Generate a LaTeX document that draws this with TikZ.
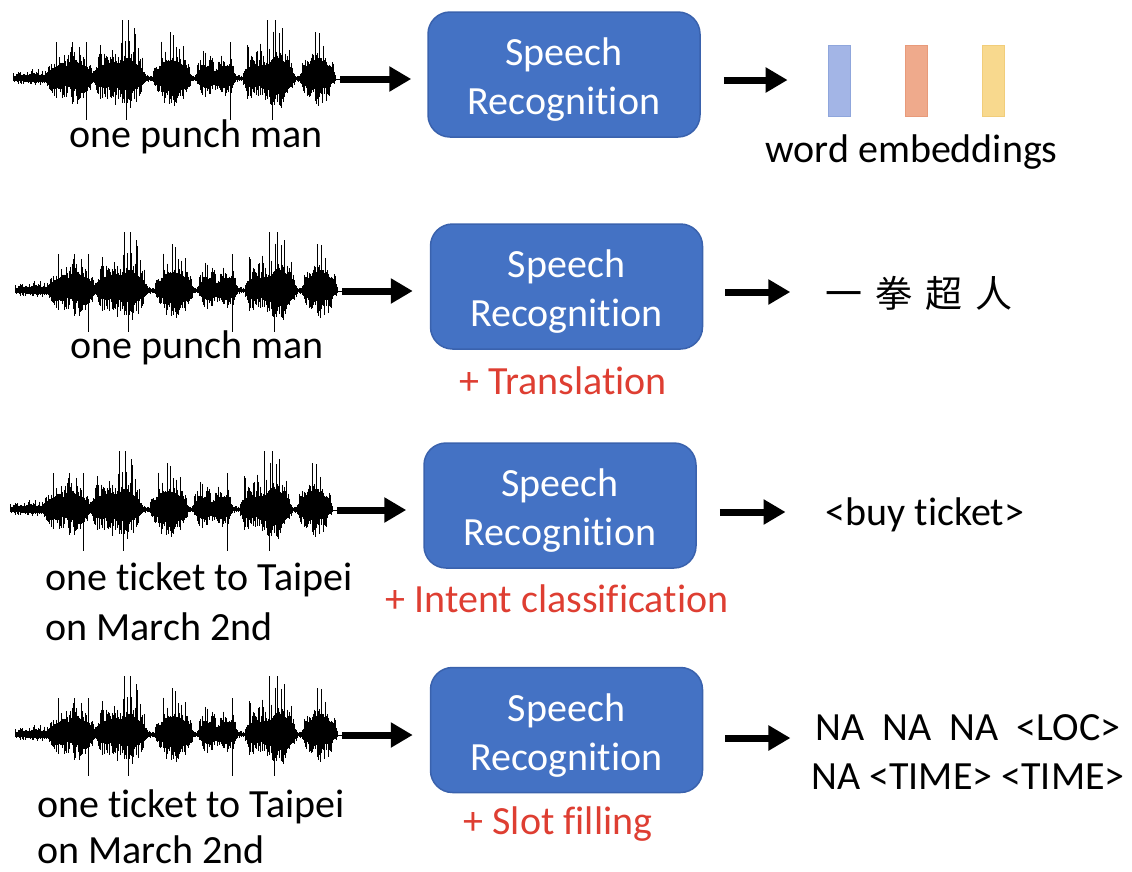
\documentclass[tikz,border=0pt]{standalone}
\usepackage{fontspec}
\setmainfont{Carlito}[Ligatures={NoCommon}]
\newfontfamily\cjkfont{Noto Sans CJK SC}
\usetikzlibrary{arrows.meta}
\definecolor{boxfill}{HTML}{4472C4}
\definecolor{boxline}{HTML}{3A62AD}
\definecolor{labred}{RGB}{222,62,50}
\definecolor{embblue}{HTML}{A3B5E6}
\definecolor{embbluel}{HTML}{8FA6DC}
\definecolor{embor}{HTML}{EFAA8C}
\definecolor{emborl}{HTML}{E89A7A}
\definecolor{embye}{HTML}{F8D98E}
\definecolor{embyel}{HTML}{F1CD7A}
\newcommand{\boxstrut}{\rule{0pt}{38pt}}
\tikzset{
  waveline/.style={line width=0.95pt, black},
  spikeline/.style={line width=0.8pt, black},
  bigarrow/.style={line width=7pt, -{Triangle[length=22pt,width=24pt]}},
  srbox/.style={draw=boxline, fill=boxfill, line width=1.5pt, rounded corners=22pt,
    minimum width=272pt, minimum height=125pt, inner sep=0pt, text=white,
    align=center, font=\fontsize{40}{49}\selectfont},
  txt/.style={inner sep=0pt, anchor=base, font=\fontsize{40}{49}\selectfont},
  cjk/.style={inner sep=0pt, anchor=center, font=\cjkfont\fontsize{37}{44}\selectfont},
  embbar/.style={minimum width=22pt, minimum height=71pt, inner sep=0pt, line width=0.8pt}
}
\newcommand{\speechwave}[3]{%
  \begin{scope}[shift={(#2,#3)}]
    \pgfmathsetseed{11}
    \foreach \u in {0,...,322}{
      \pgfmathsetmacro{\env}{4.5
        + 5*max(0,1-((\u-22)/24)^2)
        + 25*max(0,1-((\u-50)/18)^2)
        + 23*max(0,1-((\u-68)/13)^2)
        + 27*max(0,1-((\u-92)/13)^2)
        + 38*max(0,1-((\u-114)/18)^2)
        + 36*max(0,1-((\u-159)/20)^2)
        + 22*max(0,1-((\u-193)/11)^2)
        + 24*max(0,1-((\u-212)/11)^2)
        + 27*max(0,1-((\u-241)/12)^2)
        + 38*max(0,1-((\u-264)/18)^2)
        + 36*max(0,1-((\u-304)/18)^2)}
      \pgfmathsetmacro{\up}{\env*(0.45+0.95*rnd*rnd)}
      \pgfmathsetmacro{\dn}{0.66*\env*(0.38+0.7*rnd)}
      \draw[waveline] (\u,-\up) -- (\u,\dn);
    }
    \draw[waveline] (0,0) -- (327,0);
    \foreach \u/\a/\b in {73/37/41, 113/20/41, 217/37/41, 259/20/41,
                          109/59/20, 115/59/20, 121/51/20, 254/59/20, 262/59/20, 269/51/20,
                          157/47/20, 302/47/20, 87/34/20, 234/34/20}{
      \draw[spikeline] (\u,-\a) -- (\u,\b);
    }
    \coordinate (#1) at (327,0);
  \end{scope}}
\begin{document}
\begin{tikzpicture}[x=1pt,y=-1pt]
\useasboundingbox (0,0) rectangle (1132,871);
% ---------- row 1
\speechwave{w1}{13}{79}
\node[srbox] (b1) at (564,74.5) {\boxstrut Speech\\Recognition};
\node[txt] (t1) at (196,147) {one punch man};
\node[embbar, fill=embblue, draw=embbluel] (e1) at (839,80.5) {};
\node[embbar, fill=embor, draw=emborl] (e2) at (916,80.5) {};
\node[embbar, fill=embye, draw=embyel] (e3) at (993.5,80.5) {};
\node[txt] (emb) at (911.5,162) {word embeddings};
\coordinate (r1) at (0,80);
\draw[bigarrow, shorten >=16pt] (w1) -- (w1 -| b1.west);
\draw[bigarrow, shorten <=23pt, shorten >=40pt] (b1.east |- r1) -- (e1.west |- r1);
% ---------- row 2
\speechwave{w2}{15}{291}
\node[srbox] (b2) at (566.5,286.5) {\boxstrut Speech\\Recognition};
\node[txt] (t2) at (197,358) {one punch man};
\node[txt, text=labred] (l2) at (563,394) {+ Translation};
\node[cjk] (zh) at (919,293) {一\hspace{13pt}拳\hspace{13pt}超\hspace{13pt}人};
\coordinate (r2) at (0,292);
\draw[bigarrow, shorten >=17pt] (w2) -- (w2 -| b2.west);
\draw[bigarrow, shorten <=22pt, shorten >=35pt] (b2.east |- r2) -- (zh.west |- r2);
% ---------- row 3
\speechwave{w3}{10}{510}
\node[srbox] (b3) at (560,505.5) {\boxstrut Speech\\Recognition};
\node[txt, anchor=base west] (t3a) at (45,590) {one ticket to Taipei};
\node[txt, anchor=base west] (t3b) at (45,640) {on March 2nd};
\node[txt, text=labred] (l3) at (557,612) {+ Intent classification};
\node[txt] (buy) at (925,525) {<buy ticket>};
\coordinate (r3) at (0,512);
\draw[bigarrow, shorten >=17pt] (w3) -- (w3 -| b3.west);
\draw[bigarrow, shorten <=23pt, shorten >=40pt] (b3.east |- r3) -- (buy.west |- r3);
% ---------- row 4
\speechwave{w4}{15}{735}
\node[srbox] (b4) at (566.5,730) {\boxstrut Speech\\Recognition};
\node[txt, anchor=base west] (t4a) at (37,817) {one ticket to Taipei};
\node[txt, anchor=base west] (t4b) at (37,863) {on March 2nd};
\node[txt, text=labred] (l4) at (558,834) {+ Slot filling};
\node[txt] (na1) at (968,740) {NA\ \ NA\ \ NA\ \ <LOC>};
\node[txt] (na2) at (968,789) {NA <TIME> <TIME>};
\coordinate (r4) at (0,738);
\draw[bigarrow, shorten >=17pt] (w4) -- (w4 -| b4.west);
\draw[bigarrow, shorten <=22pt, shorten >=25pt] (b4.east |- r4) -- (na1.west |- r4);
\end{tikzpicture}
\end{document}
